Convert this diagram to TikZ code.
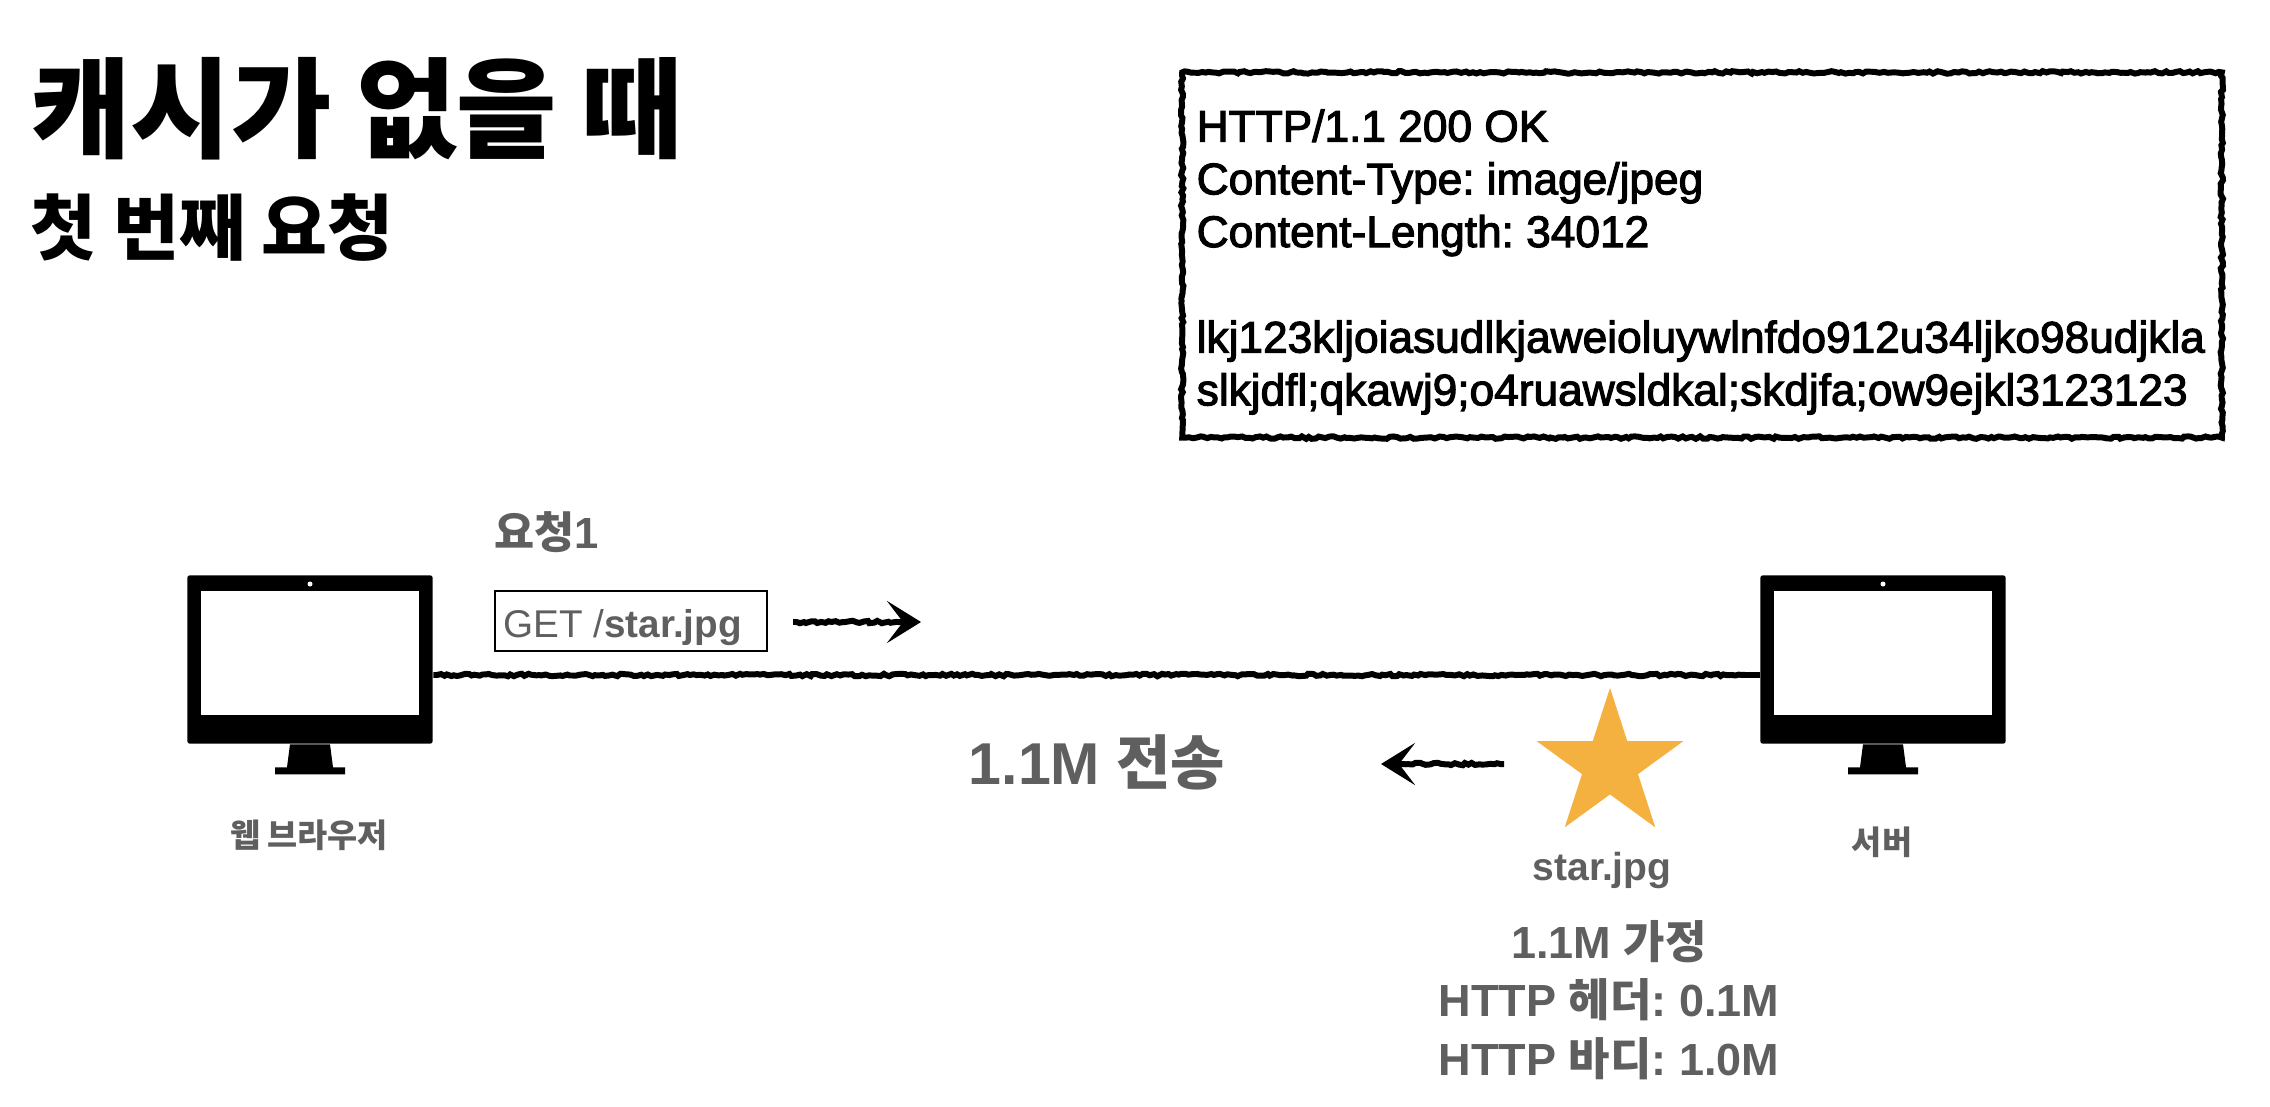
\documentclass[tikz,border=0pt]{standalone}
\usepackage{fontspec}
\setmainfont{Liberation Sans}
\newfontfamily\kofont{Noto Sans CJK KR}
\newfontfamily\medfont{Liberation Sans}[FakeBold=2.5]
\usetikzlibrary{arrows.meta,decorations.pathmorphing,shapes.geometric}
\definecolor{labelgray}{HTML}{5F5F5F}
\definecolor{staryellow}{HTML}{F4B140}
\pgfmathsetseed{7}
\tikzset{
  x=0.01cm,y=-0.01cm,
  txt/.style={inner sep=0pt,text=labelgray,font=\bfseries},
  rough/.style={line width=1.7pt,decorate,decoration={random steps,segment length=1pt,amplitude=0.35pt,post length=4pt,pre length=1pt}},
  roughtip/.style={-{Stealth[length=0.34cm,width=0.42cm,inset=0.16cm]}},
  body/.style={fill=black,rounded corners=0.6pt,minimum width=2.45cm,minimum height=1.68cm,inner sep=0pt},
  screen/.style={fill=white,minimum width=2.17cm,minimum height=1.24cm,inner sep=0pt},
  cam/.style={circle,fill=white,minimum size=0.05cm,inner sep=0pt}
}
\begin{document}
\frenchspacing
\begin{tikzpicture}
\useasboundingbox (0,0) rectangle (2270,1106);

\node[inner sep=0pt,anchor=base west,font=\fontsize{31}{36}\selectfont\bfseries\kofont](title) at (30,149) {캐시가 없을 때};
\node[inner sep=0pt,anchor=base west,font=\fontsize{20.4}{24}\selectfont\bfseries\kofont](subtitle) at (30,254) {첫 번째 요청};

\node[draw,rough,minimum width=10.39cm,minimum height=3.65cm,inner sep=0pt](resp) at (1702,255) {};
\node[inner sep=0pt,anchor=west,align=left,font=\fontsize{12.58}{15}\selectfont\medfont](resptext) at (1196,262) {HTTP/1.1 200 OK\\Content-Type: image/jpeg\\Content-Length: 34012\\[15pt]lkj123kljoiasudlkjaweioluywlnfdo912u34ljko98udjkla\\slkjdfl;qkawj9;o4ruawsldkal;skdjfa;ow9ejkl3123123};

\node[body](browser) at (310,659.5) {};
\node[screen](browserscr) at (310,653) {};
\node[cam](browsercam) at (310,584) {};
\fill (browser.south)++(-20,0) -- ++(40,0) -- ++(3,23) -- ++(12,0) -- ++(0,7) -- ++(-70,0) -- ++(0,-7) -- ++(12,0) -- cycle;

\node[body](server) at (1883,659.5) {};
\node[screen](serverscr) at (1883,653) {};
\node[cam](servercam) at (1883,584) {};
\fill (server.south)++(-20,0) -- ++(40,0) -- ++(3,23) -- ++(12,0) -- ++(0,7) -- ++(-70,0) -- ++(0,-7) -- ++(12,0) -- cycle;

\coordinate(wire) at (0,675);
\draw[rough] (browser.east |- wire) -- (server.west |- wire);

\node[txt,font=\fontsize{12.4}{15}\selectfont\bfseries](req) at (547,532) {{\kofont 요청}1};
\node[draw,line width=0.7pt,minimum width=2.72cm,minimum height=0.6cm,inner sep=0pt,text height=10pt,text depth=0.9pt,text=labelgray,font=\fontsize{11}{14}\selectfont](getbox) at (631,621) {GET /\textbf{star.jpg}\kern0.17cm};

\coordinate(reqstart) at (793,622);
\coordinate(reqend) at (921,622);
\draw[rough,roughtip] (reqstart) -- (reqend);

\node[star,star points=5,star point ratio=2.618,fill=staryellow,minimum size=1.54cm,inner sep=0pt](star) at (1610,765) {};

\coordinate(resstart) at (1504,764);
\coordinate(resend) at (1381,764);
\draw[rough,roughtip] (resstart) -- (resend);

\node[txt,font=\fontsize{16.8}{21}\selectfont\bfseries](sent) at (1097,762) {1.1M {\kofont 전송}};
\node[txt,font=\fontsize{9.3}{12}\selectfont\bfseries\kofont](browserlab) at (309,835) {웹 브라우저};
\node[txt,font=\fontsize{9.3}{12}\selectfont\bfseries\kofont](serverlab) at (1882,842) {서버};
\node[txt,font=\fontsize{11.1}{14}\selectfont\bfseries](starlab) at (1602,870) {star.jpg};
\node[txt,align=center,font=\fontsize{12.8}{16.7}\selectfont\bfseries](sizes) at (1609,1000) {1.1M {\kofont 가정}\\HTTP {\kofont 헤더}: 0.1M\\HTTP {\kofont 바디}: 1.0M};
\end{tikzpicture}
\end{document}
